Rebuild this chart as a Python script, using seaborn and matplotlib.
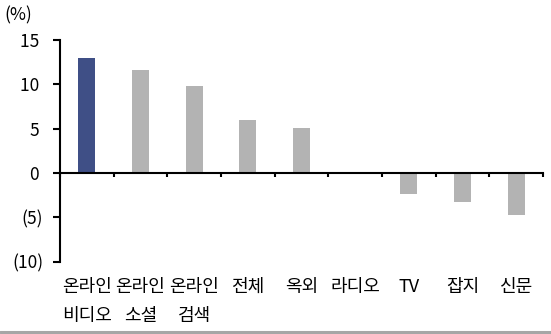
import matplotlib
matplotlib.use("Agg")
import matplotlib.pyplot as plt
import seaborn as sns
import pandas as pd
from matplotlib.lines import Line2D

# --- data ---
categories = ["온라인\n비디오", "온라인\n소셜", "온라인\n검색", "전체", "옥외", "라디오", "TV", "잡지", "신문"]
growth = [13.0, 11.6, 9.8, 6.0, 5.1, 0.0, -2.4, -3.3, -4.8]
y_ticks = [15, 10, 5, 0, -5, -10]

highlight = "#3F4F86"
grey = "#B3B3B3"

sns.set_theme(style="white")
plt.rcParams["font.family"] = ["Noto Sans CJK KR", "DejaVu Sans"]

df = pd.DataFrame({"cat": categories, "val": growth})
colors = {c: (highlight if i == 0 else grey) for i, c in enumerate(categories)}

fig = plt.figure(figsize=(5.51, 3.34), dpi=100)
ax = fig.add_axes([0.1089, 0.217, 0.9855 - 0.1089, 0.880 - 0.217])

sns.barplot(data=df, x="cat", y="val", hue="cat", palette=colors,
            legend=False, width=0.32, saturation=1, ax=ax, edgecolor="none")

ax.set_xlim(-0.5, len(categories) - 0.5)
ax.set_ylim(-10, 15)
ax.set_xlabel("")
ax.set_ylabel("")

# y axis, Excel style negatives in brackets
ax.set_yticks(y_ticks)
ax.set_yticklabels([f"({-v})" if v < 0 else f"{v} " for v in y_ticks], fontsize=12.5)
ax.tick_params(axis="y", direction="out", length=5, width=1.5, pad=7, left=True, colors="black")

# x axis sits at zero, ticks at category boundaries
for s in ["top", "right"]:
    ax.spines[s].set_visible(False)
ax.spines["left"].set_linewidth(1.5)
ax.spines["left"].set_color("black")
ax.spines["bottom"].set_position(("data", 0))
ax.spines["bottom"].set_linewidth(1.5)
ax.spines["bottom"].set_color("black")
ax.set_xticks([i - 0.5 for i in range(len(categories) + 1)])
ax.set_xticklabels([])
ax.tick_params(axis="x", direction="out", length=3, width=1.5, bottom=True, colors="black")

# category labels below the plot area
for i, c in enumerate(categories):
    ax.annotate(c, xy=(i, 0), xycoords=ax.get_xaxis_transform(),
                xytext=(0, -12), textcoords="offset points",
                ha="center", va="top", fontsize=13, linespacing=1.8, color="black")

fig.text(0.008, 0.955, "(%)", fontsize=12.5, va="center", ha="left", color="black")

# grey rule at the very bottom
fig.add_artist(Line2D([0, 1], [0.005, 0.005], transform=fig.transFigure,
                      color="#A6A6A6", linewidth=2.2))

fig.savefig("out.png", dpi=100)
